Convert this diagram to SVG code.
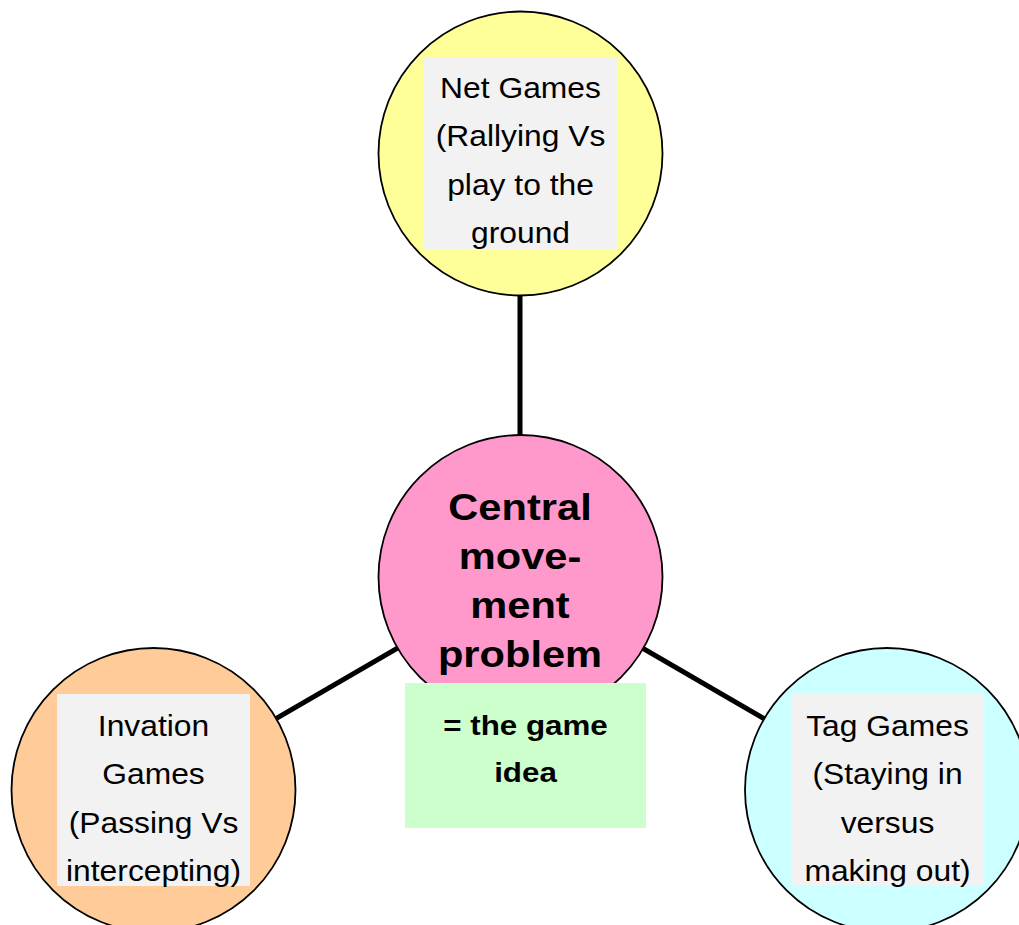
<svg xmlns="http://www.w3.org/2000/svg" width="1019" height="925" viewBox="0 0 1019 925">
<style>
.circ{stroke:#000;stroke-width:1.8}
.box{fill:#F2F2F2}
.conn{stroke:#000;stroke-width:5;fill:none}
.t{font-family:"Liberation Sans",Arial,sans-serif;font-size:30px;fill:#000;text-anchor:middle}
.tb{font-family:"Liberation Sans",Arial,sans-serif;font-weight:bold;font-size:37.5px;fill:#000;text-anchor:middle}
.tg{font-family:"Liberation Sans",Arial,sans-serif;font-weight:bold;font-size:27.5px;fill:#000;text-anchor:middle}
</style>
<rect width="1019" height="925" fill="#fff"/>
<g id="connectors">
<line class="conn" x1="520" y1="290" x2="520" y2="440"/>
<line class="conn" x1="520" y1="577" x2="153" y2="790"/>
<line class="conn" x1="520" y1="577" x2="887" y2="790"/>
</g>
<g id="net-games">
<circle class="circ" cx="520.5" cy="153.5" r="142" fill="#FFFF99"/>
<rect class="box" x="424" y="58" width="193" height="191"/>
<g transform="translate(520.5,0) scale(1.06,1)">
<text class="t" x="0" y="98">Net Games</text>
<text class="t" x="0" y="146.5">(Rallying Vs</text>
<text class="t" x="0" y="195">play to the</text>
<text class="t" x="0" y="243">ground</text>
</g>
</g>
<g id="central">
<circle class="circ" cx="520.5" cy="577" r="142" fill="#FF99CC"/>
<g transform="translate(520,0) scale(1.11,1)">
<text class="tb" x="0" y="520">Central</text>
<text class="tb" x="0" y="569">move-</text>
<text class="tb" x="0" y="618">ment</text>
<text class="tb" x="0" y="667">problem</text>
</g>
</g>
<g id="invasion-games">
<circle class="circ" cx="153.5" cy="790" r="142" fill="#FFCC99"/>
<rect class="box" x="57" y="694" width="193" height="192"/>
<g transform="translate(153.5,0) scale(1.06,1)">
<text class="t" x="0" y="736">Invation</text>
<text class="t" x="0" y="784.5">Games</text>
<text class="t" x="0" y="833">(Passing Vs</text>
<text class="t" x="0" y="881">intercepting)</text>
</g>
</g>
<g id="tag-games">
<circle class="circ" cx="887" cy="790" r="142" fill="#CCFFFF"/>
<rect class="box" x="791" y="694" width="193" height="192"/>
<g transform="translate(887.5,0) scale(1.06,1)">
<text class="t" x="0" y="736">Tag Games</text>
<text class="t" x="0" y="784.5">(Staying in</text>
<text class="t" x="0" y="833">versus</text>
<text class="t" x="0" y="881">making out)</text>
</g>
</g>
<g id="game-idea">
<rect x="405" y="683" width="241" height="145" fill="#CCFFCC"/>
<g transform="translate(525.5,0) scale(1.14,1)">
<text class="tg" x="0" y="735">= the game</text>
<text class="tg" x="0" y="782">idea</text>
</g>
</g>
</svg>
